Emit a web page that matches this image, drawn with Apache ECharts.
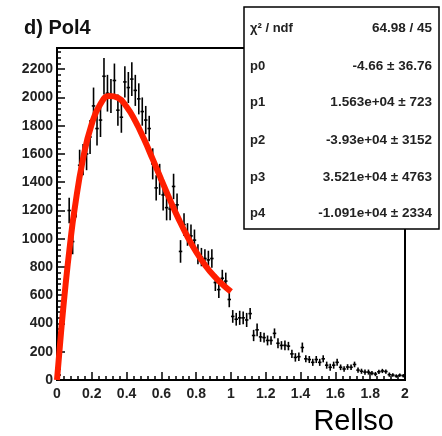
<!DOCTYPE html>
<html>
<head>
<meta charset="utf-8">
<script src="https://cdn.jsdelivr.net/npm/echarts@6/dist/echarts.min.js"></script>
<style>
  html, body { margin: 0; padding: 0; background: #fff; }
  #chart { width: 442px; height: 436px; }
</style>
</head>
<body>
<div id="chart"></div>
<script>
// histogram, 100 bins of width 0.02 on [0, 2]
var binWidth = 0.02;
var binCounts = [
  120, 430, 700, 1200, 980, 1250, 1520, 1560, 1600, 1720,
  1940, 1780, 1840, 2150, 2030, 2010, 2120, 1910, 1860, 2110,
  2070, 2130, 2050, 1990, 1900, 1840, 1780, 1530, 1360, 1420,
  1310, 1220, 1210, 1370, 1240, 910, 1100, 1030, 1020, 990,
  890, 870, 860, 850, 860, 690, 640, 720, 700, 570,
  450, 430, 440, 440, 425, 470, 315, 355, 305, 300,
  280, 280, 330, 260, 245, 245, 240, 185, 160, 165,
  230, 150, 145, 125, 145, 125, 150, 105, 90, 105,
  125, 90, 78, 92, 90, 110, 70, 62, 56, 56,
  48, 42, 58, 64, 60, 38, 35, 28, 34, 30
];
var binErrors = [
  30, 60, 80, 90, 90, 100, 110, 110, 115, 120,
  130, 120, 120, 130, 130, 120, 120, 110, 110, 110,
  110, 120, 110, 110, 100, 100, 90, 110, 90, 110,
  110, 90, 80, 90, 80, 80, 80, 80, 80, 75,
  70, 65, 65, 65, 65, 60, 60, 60, 60, 55,
  45, 45, 50, 45, 50, 40, 40, 45, 35, 35,
  35, 30, 35, 35, 30, 35, 30, 30, 30, 30,
  35, 25, 25, 25, 25, 25, 25, 25, 25, 25,
  25, 20, 20, 20, 20, 20, 18, 18, 18, 18,
  15, 15, 15, 15, 15, 15, 12, 12, 12, 12
];

// pol4 fit
var fitX = [0, 0.025, 0.05, 0.075, 0.1, 0.15, 0.2, 0.25, 0.3, 0.35, 0.4, 0.45,
            0.5, 0.55, 0.6, 0.65, 0.7, 0.75, 0.8, 0.85, 0.9, 0.95, 1.0];
var fitY = [0, 362, 683, 961, 1200, 1569, 1814, 1954, 2010, 1998, 1934, 1832,
            1705, 1563, 1417, 1273, 1137, 1014, 906, 815, 739, 678, 625];

var statLabels = ['\u03c7\u00b2 / ndf', 'p0', 'p1', 'p2', 'p3', 'p4'];
var statValues = ['64.98 / 45', '-4.66 \u00b1 36.76', '1.563e+04 \u00b1 723',
                  '-3.93e+04 \u00b1 3152', '3.521e+04 \u00b1 4763', '-1.091e+04 \u00b1 2334'];
var statRowY = [28, 66, 102, 140, 177, 213];

var chart = echarts.init(document.getElementById('chart'));

var histData = binCounts.map(function (v, i) {
  return [binWidth * (i + 0.5), v, binErrors[i]];
});
var fitData = fitX.map(function (x, i) { return [x, fitY[i]]; });

var font = 'Liberation Sans, Arial, sans-serif';

// stats box
var statsBox = [{
  type: 'rect',
  shape: { x: 244, y: 7, width: 195, height: 222 },
  style: { fill: '#fff', stroke: '#000', lineWidth: 1.5 },
  z: 50
}];
statLabels.forEach(function (s, i) {
  statsBox.push({
    type: 'text', x: 250, y: statRowY[i], z: 51,
    style: { text: s, font: 'bold 13px ' + font, fill: '#222', textVerticalAlign: 'middle' }
  });
  statsBox.push({
    type: 'text', x: 432, y: statRowY[i], z: 51,
    style: { text: statValues[i], font: 'bold 13.5px ' + font, fill: '#222',
             textAlign: 'right', textVerticalAlign: 'middle' }
  });
});

var option = {
  backgroundColor: '#fff',
  animation: false,
  title: {
    text: 'd) Pol4',
    left: 19, top: 13,
    textStyle: { fontFamily: font, fontSize: 20, fontWeight: 'bold', color: '#111' }
  },
  grid: {
    left: 57, right: 37, top: 48, bottom: 51,
    show: true, borderColor: '#000', borderWidth: 2, backgroundColor: 'transparent'
  },
  xAxis: {
    type: 'value',
    min: 0, max: 2, interval: 0.2,
    name: 'Rellso',
    nameLocation: 'end',
    nameGap: -11,
    nameTextStyle: {
      fontFamily: font, fontSize: 29, color: '#000',
      align: 'right', verticalAlign: 'top', padding: [27, 0, 0, 0]
    },
    splitLine: { show: false },
    axisLine: { lineStyle: { color: '#000', width: 2 } },
    axisTick: { inside: true, length: 8, lineStyle: { color: '#000', width: 1.5 } },
    minorTick: { show: true, splitNumber: 5, length: 4, lineStyle: { color: '#000', width: 1.5 } },
    axisLabel: { fontFamily: font, fontSize: 14, fontWeight: 'bold', color: '#222', margin: 7 }
  },
  yAxis: {
    type: 'value',
    min: 0, max: 2350, interval: 200,
    splitLine: { show: false },
    axisLine: { lineStyle: { color: '#000', width: 2 } },
    axisTick: { inside: true, length: 8, lineStyle: { color: '#000', width: 1.5 } },
    minorTick: { show: true, splitNumber: 5, length: 4, lineStyle: { color: '#000', width: 1.5 } },
    axisLabel: { fontFamily: font, fontSize: 14, fontWeight: 'bold', color: '#222',
                 margin: 4, showMaxLabel: false,
                 formatter: function (v) { return String(v); } }
  },
  graphic: statsBox,
  series: [{
    type: 'custom',
    data: histData,
    encode: { x: 0, y: 1 },
    z: 2,
    clip: true,
    renderItem: function (params, api) {
      var x = api.value(0), v = api.value(1), e = api.value(2);
      var l = api.coord([x - binWidth / 2, v]);
      var r = api.coord([x + binWidth / 2, v]);
      var t = api.coord([x, v + e]);
      var b = api.coord([x, Math.max(v - e, 0)]);
      var st = { stroke: '#000', lineWidth: 1.6 };
      return {
        type: 'group',
        children: [
          { type: 'line', shape: { x1: t[0], y1: t[1], x2: b[0], y2: b[1] }, style: st },
          { type: 'line', shape: { x1: l[0], y1: l[1], x2: r[0], y2: r[1] }, style: st }
        ]
      };
    }
  }, {
    type: 'line',
    data: fitData,
    smooth: true,
    symbol: 'none',
    z: 3,
    lineStyle: { color: '#ff1e00', width: 6 }
  }]
};

chart.setOption(option);
</script>
</body>
</html>
